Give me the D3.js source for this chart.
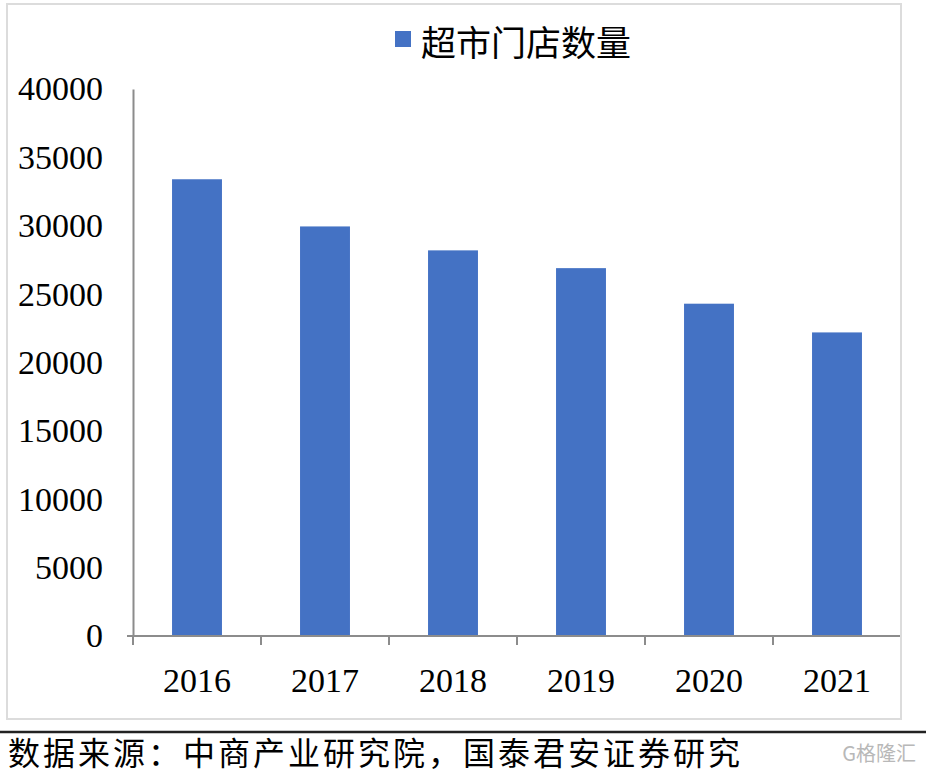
<!DOCTYPE html>
<html>
<head>
<meta charset="utf-8">
<script src="https://cdnjs.cloudflare.com/ajax/libs/d3/7.8.5/d3.min.js"></script>
<style>
  html, body { margin: 0; padding: 0; background: #fff; }
  svg { display: block; }
</style>
</head>
<body>
<svg id="chart" width="926" height="775"></svg>
<script>
const categories = ["2016", "2017", "2018", "2019", "2020", "2021"];
const storeCounts = [33400, 29950, 28200, 26900, 24300, 22200];
const yTicks = [0, 5000, 10000, 15000, 20000, 25000, 30000, 35000, 40000];
const seriesName = "超市门店数量";
const sourceText = "数据来源：中商产业研究院，国泰君安证券研究";
const watermark = "格隆汇";

(function () {
const svg = d3.select("#chart");
const serif = "'Liberation Serif', 'Times New Roman', serif";
const cjk = "'Noto Sans CJK SC', sans-serif";

// frame
svg.append("rect")
  .attr("x", 7).attr("y", 4).attr("width", 894).attr("height", 715)
  .attr("fill", "#fff").attr("stroke", "#dcdcdc").attr("stroke-width", 2);

const plotL = 133, plotR = 901, plotT = 89, plotB = 636;

const x = d3.scaleBand().domain(categories).range([plotL, plotR]).paddingInner(0.61).paddingOuter(0.305);
const y = d3.scaleLinear().domain([0, 40000]).range([plotB, plotT]);

// bars
svg.append("g").selectAll("rect").data(storeCounts).join("rect")
  .attr("x", (d, i) => x(categories[i]))
  .attr("y", d => y(d))
  .attr("width", x.bandwidth())
  .attr("height", d => y(0) - y(d))
  .attr("fill", "#4472C4");

// y axis
const yAxis = svg.append("g").attr("transform", `translate(${plotL},0)`)
  .call(d3.axisLeft(y).tickValues(yTicks).tickSize(0).tickPadding(30).tickFormat(d3.format("d")));
yAxis.select(".domain").attr("stroke", "#8c8c8c").attr("stroke-width", 2);
yAxis.selectAll("text").attr("font-family", serif).attr("font-size", 34).attr("fill", "#000");

// x axis
const step = x.step();
const xAxisG = svg.append("g").attr("transform", `translate(0,${plotB})`);
xAxisG.append("line").attr("x1", plotL - 6).attr("x2", plotR - 1).attr("y1", 0).attr("y2", 0)
  .attr("stroke", "#8c8c8c").attr("stroke-width", 2);
const boundaries = d3.range(categories.length).map(i => plotL + i * step);
xAxisG.selectAll(".tk").data(boundaries).join("line")
  .attr("x1", d => d).attr("x2", d => d).attr("y1", 0).attr("y2", 9)
  .attr("stroke", "#8c8c8c").attr("stroke-width", 2);
xAxisG.selectAll(".lbl").data(categories).join("text")
  .attr("x", d => x(d) + x.bandwidth() / 2)
  .attr("y", 56)
  .attr("text-anchor", "middle")
  .attr("font-family", serif).attr("font-size", 34).attr("fill", "#000")
  .text(d => d);

// legend
svg.append("rect").attr("x", 395).attr("y", 31).attr("width", 16).attr("height", 16).attr("fill", "#4472C4");
svg.append("text").attr("x", 421).attr("y", 40).attr("dominant-baseline", "central")
  .attr("font-family", cjk).attr("font-size", 35).attr("fill", "#000").text(seriesName);

// bottom rule and source
svg.append("line").attr("x1", 0).attr("x2", 926).attr("y1", 732).attr("y2", 732)
  .attr("stroke", "#222").attr("stroke-width", 2.5);
svg.append("text").attr("x", 8).attr("y", 751).attr("dominant-baseline", "central")
  .attr("font-family", cjk).attr("font-size", 32).attr("letter-spacing", 3)
  .attr("fill", "#000").text(sourceText);
svg.append("text").attr("x", 916).attr("y", 752).attr("dominant-baseline", "central")
  .attr("text-anchor", "end")
  .attr("font-family", cjk).attr("font-size", 20).attr("fill", "#b8b8b8").text("G" + watermark);
})();
</script>
</body>
</html>
